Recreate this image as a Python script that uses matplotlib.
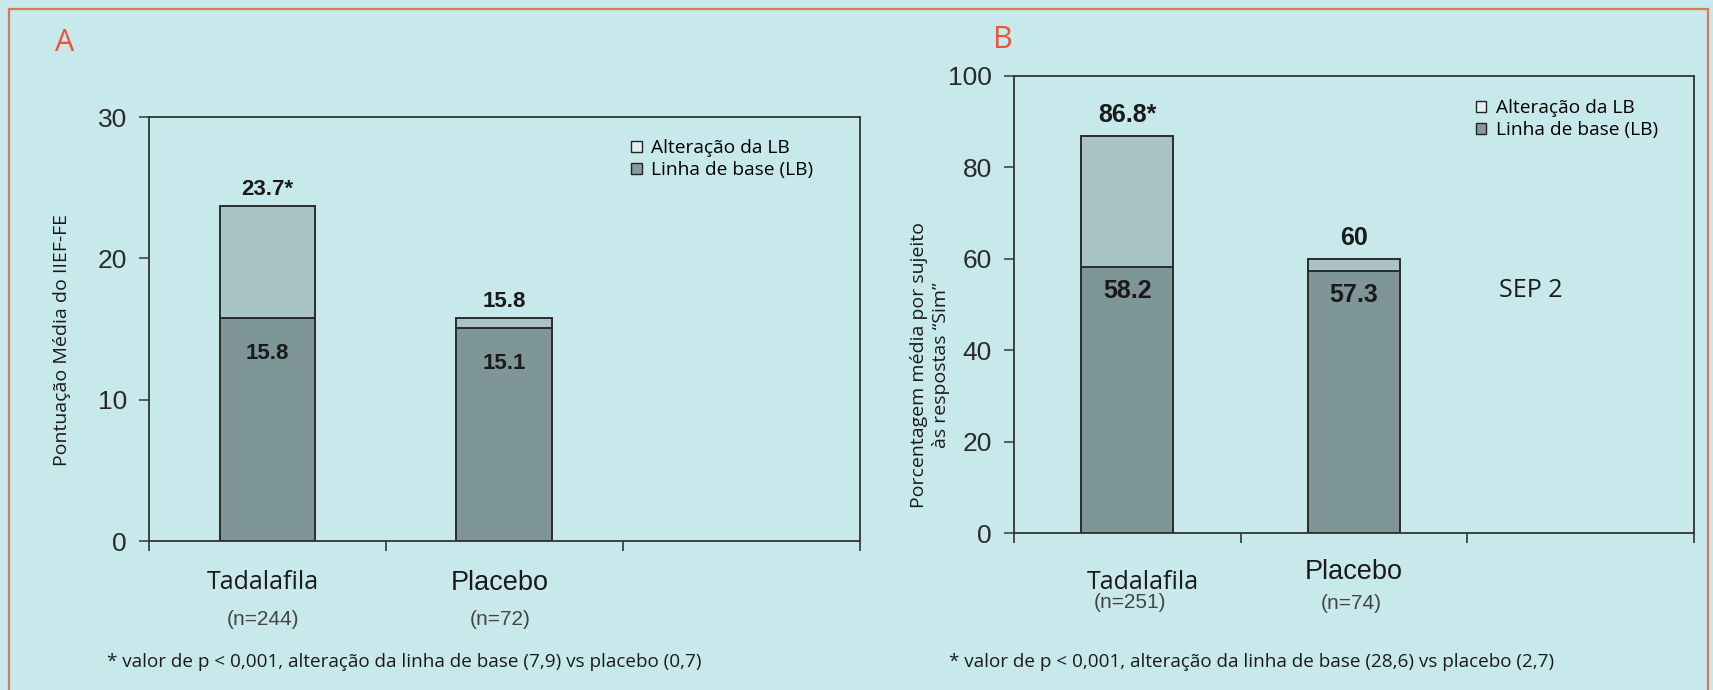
import matplotlib
matplotlib.use('Agg')
import numpy as np
from matplotlib import pyplot as plt
from matplotlib.patches import Patch, Rectangle

# dados do gráfico A (IIEF-FE)
categorias = ['Tadalafila', 'Placebo']
n_a = ['(n=244)', '(n=72)']
base_a = [15.8, 15.1]
alteracao_a = [7.9, 0.7]

# dados do gráfico B (SEP 2)
n_b = ['(n=251)', '(n=74)']
base_b = [58.2, 57.3]
alteracao_b = [28.6, 2.7]

legenda = ['Alteração da LB', 'Linha de base (LB)']
nota_a = '* valor de p < 0,001, alteração da linha de base (7,9) vs placebo (0,7)'
nota_b = '* valor de p < 0,001, alteração da linha de base (28,6) vs placebo (2,7)'

FUNDO = '#c8e9ec'
COR_BASE = '#7f9699'
COR_ALT = '#a9c4c7'
BORDA = '#2b2b2b'
MYRIAD = ['Open Sans', 'DejaVu Sans']

plt.rcParams['font.family'] = ['Liberation Sans', 'DejaVu Sans']


def painel(ax, base, alteracao, ymax, passo, fs_valor, off_topo, off_dentro):
    x = np.arange(len(base))
    total = np.round(np.array(base) + np.array(alteracao), 1)
    ax.set_facecolor(FUNDO)
    ax.bar(x, base, width=0.405, color=COR_BASE, edgecolor=BORDA, linewidth=1.4, zorder=2)
    ax.bar(x, alteracao, bottom=base, width=0.405, color=COR_ALT, edgecolor=BORDA,
           linewidth=1.4, zorder=2)
    for i in x:
        rotulo = f'{total[i]:g}' + ('*' if i == 0 else '')
        ax.annotate(rotulo, (i, total[i]), xytext=(0, off_topo), textcoords='offset points',
                    ha='center', va='center', fontsize=fs_valor, fontweight='bold', color='#1a1a1a')
        ax.annotate(f'{base[i]:g}', (i, base[i]), xytext=(0, off_dentro), textcoords='offset points',
                    ha='center', va='center', fontsize=fs_valor, fontweight='bold', color='#1a1a1a')
    ax.set_xlim(-0.5, 2.5)
    ax.set_ylim(0, ymax)
    ax.set_yticks(np.arange(0, ymax + 1, passo))
    ax.set_xticks([-0.5, 0.5, 1.5, 2.5])
    ax.set_xticklabels([])
    ax.tick_params(axis='y', length=7, width=1.2, pad=9, labelsize=19, labelcolor='#2a2a2a', color='#444')
    ax.tick_params(axis='x', length=7, width=1.2, color='#333')
    for s in ax.spines.values():
        s.set_color('#333')
        s.set_linewidth(1.3)
    handles = [Patch(facecolor='#e6efef', edgecolor='#222', linewidth=1.0),
               Patch(facecolor='#8a9a9c', edgecolor='#222', linewidth=1.0)]
    ax.legend(handles, legenda, loc='upper left', bbox_to_anchor=(0.665, 0.97), frameon=False,
              handlelength=0.55, handleheight=0.55, handletextpad=0.5, labelspacing=0.2,
              borderpad=0, prop={'family': MYRIAD, 'size': 13.8})


fig = plt.figure(figsize=(17.13, 6.90), dpi=100)
fig.patch.set_facecolor(FUNDO)

ax_a = fig.add_axes([0.0870, 0.2159, 0.4150, 0.6145])
painel(ax_a, base_a, alteracao_a, 30, 10, 16, 12, -26)
ax_a.set_ylabel('Pontuação Média do IIEF-FE', family=MYRIAD, fontsize=14, color='#1a1a1a')
ax_a.yaxis.set_label_coords(-0.110, 0.475)
for i, (cat, n) in enumerate(zip(categorias, n_a)):
    fam = MYRIAD if i == 0 else ['Liberation Sans']
    ax_a.text(i - 0.02, -0.098, cat, transform=ax_a.get_xaxis_transform(), ha='center', va='center',
              fontsize=18 if i == 0 else 19.5, family=fam, color='#1a1a1a')
    ax_a.text(i - 0.02, -0.185, n, transform=ax_a.get_xaxis_transform(), ha='center', va='center',
              fontsize=15, color='#444')

ax_b = fig.add_axes([0.5919, 0.2275, 0.3970, 0.6624])
painel(ax_b, base_b, alteracao_b, 100, 20, 18, 15, -17)
ax_b.set_ylabel('Porcentagem média por sujeito\nàs respostas \u201cSim\u201d', family=MYRIAD, fontsize=14,
                color='#1a1a1a', linespacing=1.25)
ax_b.yaxis.set_label_coords(-0.094, 0.368)
ax_b.text(0.07, -0.109, categorias[0], transform=ax_b.get_xaxis_transform(), ha='center', va='center',
          fontsize=18, family=MYRIAD, color='#1a1a1a')
ax_b.text(1.0, -0.085, categorias[1], transform=ax_b.get_xaxis_transform(), ha='center', va='center',
          fontsize=19.5, color='#1a1a1a')
ax_b.text(0.01, -0.153, n_b[0], transform=ax_b.get_xaxis_transform(), ha='center', va='center',
          fontsize=15, color='#444')
ax_b.text(0.99, -0.155, n_b[1], transform=ax_b.get_xaxis_transform(), ha='center', va='center',
          fontsize=15, color='#444')
ax_b.text(1.78, 53, 'SEP 2', ha='center', va='center', fontsize=18, family=MYRIAD, color='#1a1a1a')

# letras dos painéis e notas de rodapé
fig.text(0.0379, 0.9377, 'A', ha='center', va='center', fontsize=22, family=MYRIAD, color='#ee5537')
fig.text(0.5855, 0.942, 'B', ha='center', va='center', fontsize=22, family=MYRIAD, color='#ee5537')
fig.text(0.0625, 0.040, nota_a, ha='left', va='center', fontsize=13.6, family=MYRIAD, color='#1a1a1a')
fig.text(0.5540, 0.040, nota_b, ha='left', va='center', fontsize=13.6, family=MYRIAD, color='#1a1a1a')

# moldura laranja em volta da figura
fig.add_artist(Rectangle((0.00525, -0.05), 0.99183, 0.987 + 0.05, transform=fig.transFigure,
                         fill=False, edgecolor='#d9785f', linewidth=1.6))

fig.savefig('out.png', dpi=100, facecolor=FUNDO)
